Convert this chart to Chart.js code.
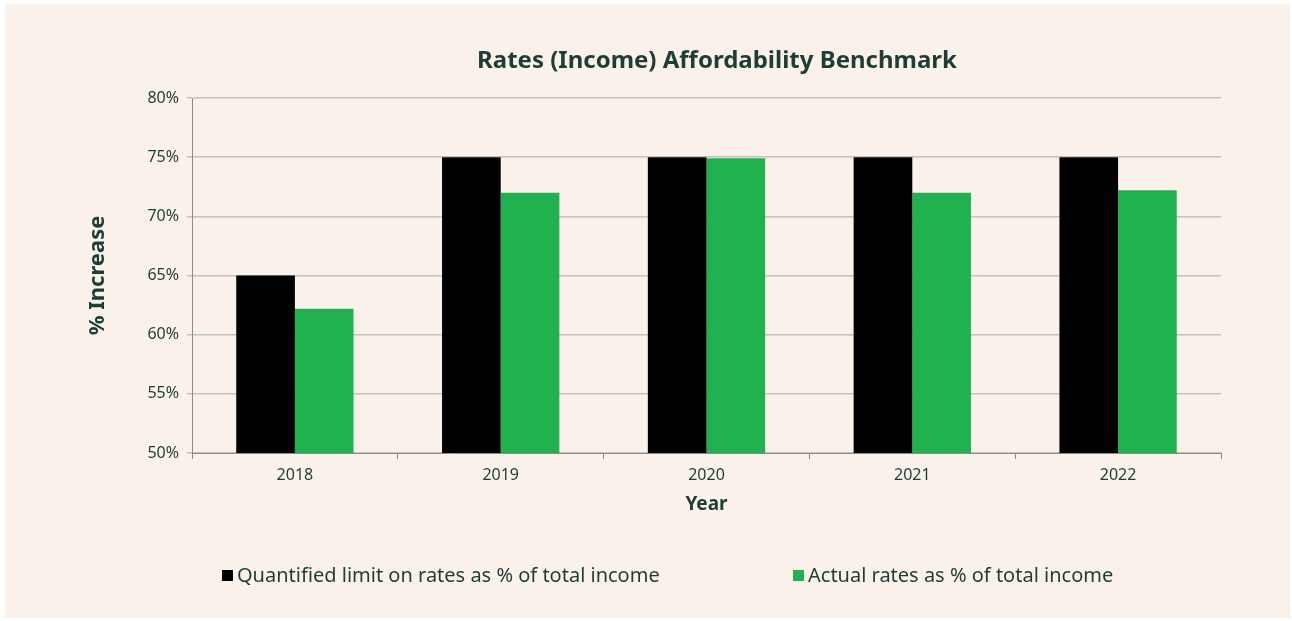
<!DOCTYPE html>
<html>
<head>
<meta charset="utf-8">
<script src="https://cdn.jsdelivr.net/npm/chart.js@4.4.0/dist/chart.umd.min.js"></script>
<style>
  html, body { margin: 0; padding: 0; background: #ffffff; }
  #wrap { position: absolute; left: 5px; top: 4px; width: 1285px; height: 614px; background: #FAF1EB; }
  #c { position: absolute; left: -5px; top: -4px; }
  #title { position: absolute; left: 712px; top: 40px; transform: translateX(-50%); font-family: "Noto Sans", sans-serif; font-weight: bold; font-size: 24px; line-height: 29px; color: #1E3D35; white-space: nowrap; }
  .leg { position: absolute; top: 557px; font-family: "Noto Sans", sans-serif; font-size: 20px; color: #1E3D35; white-space: nowrap; }
  .leg span { display: inline-block; width: 11px; height: 11px; margin-right: 4px; vertical-align: 1px; }
</style>
</head>
<body>
<div id="wrap">
  <canvas id="c" width="1292" height="621"></canvas>
  <div id="title"></div>
</div>
<script>
const chartTitle = "Rates (Income) Affordability Benchmark";
const categories = ["2018", "2019", "2020", "2021", "2022"];
const seriesLabels = ["Quantified limit on rates as % of total income", "Actual rates as % of total income"];
const limitValues = [65, 75, 75, 75, 75];
const actualValues = [62.2, 72.0, 74.9, 72.0, 72.2];
const yTicks = [50, 55, 60, 65, 70, 75, 80];

const textColor = "#1E3D35";
const colors = ["#000000", "#21B24F"];
const FONT = "Noto Sans";

document.getElementById("title").textContent = chartTitle;

const canvas = document.getElementById("c");
canvas.style.width = "1292px";
canvas.style.height = "621px";

const chart = new Chart(canvas, {
  type: "bar",
  data: {
    labels: categories,
    datasets: [
      { label: seriesLabels[0], data: limitValues, backgroundColor: colors[0], borderWidth: 0 },
      { label: seriesLabels[1], data: actualValues, backgroundColor: colors[1], borderWidth: 0 }
    ]
  },
  options: {
    responsive: false,
    animation: false,
    devicePixelRatio: 1,
    layout: { padding: { left: 81, right: 71, top: 98, bottom: 101 } },
    plugins: {
      legend: { display: false },
      tooltip: { enabled: false },
      title: { display: false }
    },
    datasets: { bar: { categoryPercentage: 0.57, barPercentage: 1.0 } },
    scales: {
      x: {
        grid: { display: true, drawOnChartArea: false, drawTicks: true, tickLength: 6, color: "#8C8C8C", offset: true },
        border: { display: true, color: "#8C8C8C", width: 1 },
        ticks: { color: textColor, font: { family: FONT, size: 16 }, padding: 7 },
        title: { display: true, text: "Year", color: textColor, font: { family: FONT, size: 19, weight: "bold" }, padding: { top: 1 } }
      },
      y: {
        min: 50, max: 80,
        afterBuildTicks: (axis) => { axis.ticks = yTicks.map(v => ({ value: v })); },
        grid: { color: "#C4C0BC", lineWidth: 1.5, tickLength: 5, drawTicks: true },
        border: { display: true, color: "#8C8C8C", width: 1 },
        ticks: { color: textColor, font: { family: FONT, size: 16 }, padding: 8, callback: v => v + "%" },
        title: { display: true, text: "% Increase", color: textColor, font: { family: FONT, size: 22, weight: "bold" }, padding: { bottom: 28 } }
      }
    }
  }
});

const wrap = document.getElementById("wrap");
const legX = [217, 788];
seriesLabels.forEach((lab, i) => {
  const d = document.createElement("div");
  d.className = "leg";
  d.style.left = legX[i] + "px";
  const sw = document.createElement("span");
  sw.style.background = colors[i];
  d.appendChild(sw);
  d.appendChild(document.createTextNode(lab));
  wrap.appendChild(d);
});
</script>
</body>
</html>
